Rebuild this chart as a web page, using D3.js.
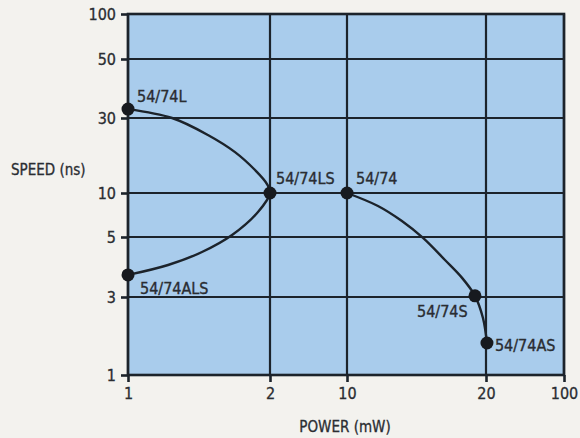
<!DOCTYPE html>
<html><head><meta charset="utf-8">
<script src="https://cdn.jsdelivr.net/npm/d3@7"></script>
<style>
html,body{margin:0;padding:0;background:#f3f2ee;}
svg{display:block;}
</style></head>
<body>
<svg id="c" width="580" height="438"></svg>
<script>
// ---- data ----
const xTickValues = [1, 2, 10, 20, 100];
const yTickValues = [1, 3, 5, 10, 30, 50, 100];
const xTitle = "POWER (mW)";
const yTitle = "SPEED (ns)";
// curve through 54/74L -> 54/74LS -> 54/74ALS (power mW, speed ns)
const curveLowPower = [
  [1, 32.4], [1.24, 30], [1.477, 23.4], [1.686, 18.2], [1.859, 14.0], [1.971, 11.4], [2, 10],
  [1.886, 7.41], [1.662, 5.16], [1.435, 4.40], [1.216, 3.94], [1, 3.62]
];
// curve through 54/74 -> 54/74S -> 54/74AS
const curveHighPower = [
  [10, 10], [11.67, 8.15], [13.15, 6.43], [14.61, 4.96], [16.3, 4.11], [17.75, 3.53],
  [18.93, 3.03], [19.7, 2.23], [20.4, 1.57]
];
const families = ["54/74L", "54/74LS", "54/74", "54/74ALS", "54/74S", "54/74AS"];
const familyPower = [1, 2, 10, 1, 18.93, 20.4];
const familySpeed = [32.4, 10, 10, 3.62, 3.03, 1.57];

// ---- layout ----
const svg = d3.select("#c");
const pL = 128, pR = 564, pT = 14, pB = 375;
const xs = d3.scaleLinear()
  .domain(xTickValues.map(Math.log10))
  .range([0, 142, 219, 358, 436].map(d => pL + d));
const ys = d3.scaleLinear()
  .domain(yTickValues.map(Math.log10))
  .range([0, 78, 138, 182, 257, 316, 361].map(d => pB - d));
const X = v => xs(Math.log10(v));
const Y = v => ys(Math.log10(v));

const ink = "#1c232b";
const textCol = "#2a2d32";

svg.append("rect").attr("x", pL).attr("y", pT)
  .attr("width", pR - pL).attr("height", pB - pT)
  .attr("fill", "#a9ccec");

// grid
const g = svg.append("g");
g.selectAll("line.v").data(xTickValues).join("line")
  .attr("x1", d => X(d)).attr("x2", d => X(d))
  .attr("y1", pT).attr("y2", pB)
  .attr("stroke", ink).attr("stroke-width", 2.2);
g.selectAll("line.h").data(yTickValues).join("line")
  .attr("y1", d => Y(d)).attr("y2", d => Y(d))
  .attr("x1", pL).attr("x2", pR)
  .attr("stroke", ink).attr("stroke-width", 2.2);
svg.append("rect").attr("x", pL).attr("y", pT)
  .attr("width", pR - pL).attr("height", pB - pT)
  .attr("fill", "none").attr("stroke", ink).attr("stroke-width", 2.6);

// axes
const fmt = d => String(Math.round(Math.pow(10, d)));
const yAxis = d3.axisLeft(ys).tickValues(yTickValues.map(Math.log10))
  .tickFormat(fmt).tickSize(7).tickPadding(5);
const xAxis = d3.axisBottom(xs).tickValues(xTickValues.map(Math.log10))
  .tickFormat(fmt).tickSize(7).tickPadding(6);
const ya = svg.append("g").attr("transform", `translate(${pL},0)`).call(yAxis);
const xa = svg.append("g").attr("transform", `translate(0,${pB})`).call(xAxis);
[ya, xa].forEach(a => {
  a.select(".domain").remove();
  a.selectAll(".tick line").attr("stroke", ink).attr("stroke-width", 2.6);
  a.selectAll(".tick text").attr("fill", textCol)
    .attr("stroke", textCol).attr("stroke-width", 0.3)
    .style("font-family", "'Liberation Sans Narrow','DejaVu Sans Condensed',sans-serif")
    .style("font-size", "16px");
});

// titles
svg.append("text").attr("x", 11).attr("y", 175).text(yTitle)
  .attr("fill", textCol).attr("stroke", textCol).attr("stroke-width", 0.3)
  .style("font-family", "'DejaVu Sans Condensed',sans-serif").style("font-size", "15px");
svg.append("text").attr("x", 345).attr("y", 432).attr("text-anchor", "middle").text(xTitle)
  .attr("fill", textCol).attr("stroke", textCol).attr("stroke-width", 0.3)
  .style("font-family", "'DejaVu Sans Condensed',sans-serif").style("font-size", "15px");

// curves
const line = d3.line().x(d => X(d[0])).y(d => Y(d[1])).curve(d3.curveCatmullRom.alpha(0.5));
[curveLowPower, curveHighPower].forEach(c => {
  svg.append("path").attr("d", line(c)).attr("fill", "none")
    .attr("stroke", ink).attr("stroke-width", 2.4).attr("stroke-linecap", "round");
});

// points
svg.selectAll("circle.pt").data(families).join("circle")
  .attr("cx", (d, i) => X(familyPower[i])).attr("cy", (d, i) => Y(familySpeed[i]))
  .attr("r", 6.5).attr("fill", "#171a1f");

// labels (offsets from point)
const offs = [[9, -7], [6, -9], [9, -9], [12, 19], [-58, 21], [8, 8]];
svg.selectAll("text.lbl").data(families).join("text")
  .attr("x", (d, i) => X(familyPower[i]) + offs[i][0])
  .attr("y", (d, i) => Y(familySpeed[i]) + offs[i][1])
  .text(d => d).attr("fill", textCol)
  .attr("stroke", textCol).attr("stroke-width", 0.35)
  .style("font-family", "'DejaVu Sans Condensed',sans-serif").style("font-size", "16px");
</script>
</body></html>
